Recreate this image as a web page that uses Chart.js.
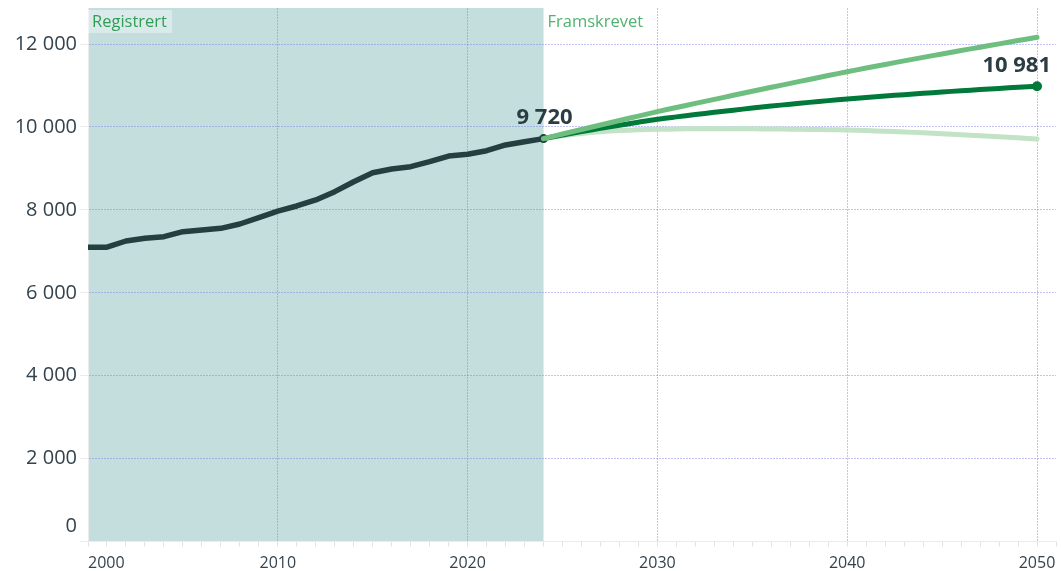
<!DOCTYPE html>
<html>
<head>
<meta charset="utf-8">
<script src="https://cdn.jsdelivr.net/npm/chart.js@4"></script>
<style>
  body { margin: 0; background: #fff; }
  #wrap { width: 1061px; height: 571px; }
</style>
</head>
<body>
<div id="wrap"><canvas id="chart"></canvas></div>
<script>
// Population, registered 2000-2024 and projected to 2050

const histYears = [2000, 2001, 2002, 2003, 2004, 2005, 2006, 2007, 2008, 2009,
                   2010, 2011, 2012, 2013, 2014, 2015, 2016, 2017, 2018, 2019,
                   2020, 2021, 2022, 2023, 2024];
const histValues = [7100, 7100, 7250, 7315, 7355, 7475, 7515, 7556, 7660, 7812,
                    7972, 8095, 8240, 8440, 8680, 8898, 8987, 9043, 9163, 9300,
                    9342, 9428, 9566, 9646, 9720];

const projYears = [2024, 2025, 2026, 2027, 2028, 2029, 2030, 2031, 2032, 2033,
                   2034, 2035, 2036, 2037, 2038, 2039, 2040, 2041, 2042, 2043,
                   2044, 2045, 2046, 2047, 2048, 2049, 2050];
const mainValues = [9720, 9806, 9888, 9966, 10042, 10116, 10186, 10244, 10300, 10354,
                    10406, 10456, 10504, 10550, 10594, 10636, 10675, 10711, 10746, 10780,
                    10813, 10844, 10874, 10903, 10931, 10957, 10981];
const highValues = [9720, 9830, 9940, 10048, 10156, 10263, 10370, 10470, 10569, 10667,
                    10764, 10861, 10957, 11052, 11147, 11241, 11334, 11422, 11509, 11595,
                    11679, 11762, 11844, 11925, 12005, 12085, 12163];
const lowValues = [9720, 9790, 9845, 9885, 9913, 9932, 9944, 9952, 9957, 9959,
                   9959, 9956, 9952, 9947, 9941, 9935, 9928, 9914, 9898, 9880,
                   9860, 9838, 9815, 9791, 9766, 9739, 9711];

const periodLabels = ['Registrert', 'Framskrevet'];
const yTicks = [0, 2000, 4000, 6000, 8000, 10000, 12000];

const fontFamily = "'Open Sans', 'Noto Sans', sans-serif";
const textColor = '#34434e';
const gridColor = 'rgba(120,120,240,0.45)';

function fmt(n) {
  return String(n).replace(/\B(?=(\d{3})+(?!\d))/g, ' ');
}

function points(xs, ys) {
  return xs.map((x, i) => ({ x: x, y: ys[i] }));
}

// shaded "registered" period + the period captions
const periodPlugin = {
  id: 'periods',
  beforeDraw(chart) {
    const ctx = chart.ctx, area = chart.chartArea, x = chart.scales.x;
    const x0 = x.getPixelForValue(histYears[0]);
    const x1 = x.getPixelForValue(histYears[histYears.length - 1]);
    ctx.save();
    ctx.fillStyle = '#c4dedd';
    ctx.fillRect(x0, area.top, x1 - x0, area.bottom - area.top);
    ctx.restore();

    // move the first x label and the 0 label inside, like the original
    const xItems = x.getLabelItems();
    x.ticks.forEach((t, i) => {
      if (t.value === histYears[0] && xItems[i]) xItems[i].options.textAlign = 'left';
    });
    const y = chart.scales.y;
    const yItems = y.getLabelItems();
    y.ticks.forEach((t, i) => {
      if (t.value === 0 && yItems[i]) yItems[i].options.translation[1] -= 15;
    });
  },
  afterDraw(chart) {
    const ctx = chart.ctx, area = chart.chartArea, x = chart.scales.x;
    const x0 = x.getPixelForValue(histYears[0]);
    const x1 = x.getPixelForValue(histYears[histYears.length - 1]);
    ctx.save();
    ctx.font = "16.5px " + fontFamily;
    ctx.textBaseline = 'middle';
    const w = ctx.measureText(periodLabels[0]).width;
    ctx.fillStyle = 'rgba(255,255,255,0.38)';
    ctx.fillRect(x0, area.top + 2, w + 9, 23);
    ctx.fillStyle = '#2f9f55';
    ctx.fillText(periodLabels[0], x0 + 4, area.top + 14);
    ctx.fillStyle = '#52b26e';
    ctx.fillText(periodLabels[1], x1 + 4, area.top + 14);
    ctx.restore();
  }
};

// value labels at the last registered and last projected point
const valueLabels = {
  id: 'valueLabels',
  afterDatasetsDraw(chart) {
    const ctx = chart.ctx, x = chart.scales.x, y = chart.scales.y, area = chart.chartArea;
    const hv = histValues[histValues.length - 1];
    const mv = mainValues[mainValues.length - 1];
    ctx.save();
    ctx.font = "bold 22px " + fontFamily;
    ctx.fillStyle = '#2b3c42';
    ctx.textBaseline = 'middle';
    ctx.textAlign = 'center';
    ctx.fillText(fmt(hv), x.getPixelForValue(histYears[histYears.length - 1]) + 1, y.getPixelForValue(hv) - 21);
    ctx.textAlign = 'right';
    ctx.fillText(fmt(mv), area.right - 5, y.getPixelForValue(mv) - 21);
    ctx.restore();
  }
};

const lastHist = histValues.length - 1;
const lastProj = projYears.length - 1;

new Chart(document.getElementById('chart'), {
  type: 'line',
  data: {
    datasets: [
      {
        label: 'Høy',
        data: points(projYears, highValues),
        borderColor: '#6ebe80',
        borderWidth: 5,
        pointRadius: 0,
        tension: 0.3,
        borderCapStyle: 'round',
        order: 0
      },
      {
        label: 'Hoved',
        data: points(projYears, mainValues),
        borderColor: '#00793a',
        backgroundColor: '#00793a',
        borderWidth: 5,
        pointRadius: (c) => c.dataIndex === lastProj ? 5 : 0,
        pointBorderWidth: 0,
        tension: 0.3,
        borderCapStyle: 'round',
        order: 1
      },
      {
        label: 'Lav',
        data: points(projYears, lowValues),
        borderColor: '#c2e3c6',
        borderWidth: 5,
        pointRadius: 0,
        tension: 0.3,
        borderCapStyle: 'round',
        order: 2
      },
      {
        label: 'Registrert',
        data: points(histYears, histValues),
        borderColor: '#243f3f',
        backgroundColor: '#243f3f',
        borderWidth: 5.5,
        pointRadius: (c) => c.dataIndex === lastHist ? 4.5 : 0,
        pointBorderWidth: 0,
        tension: 0,
        borderJoinStyle: 'round',
        borderCapStyle: 'round',
        order: 3
      }
    ]
  },
  options: {
    responsive: true,
    maintainAspectRatio: false,
    animation: false,
    layout: { padding: { top: 8, right: 0, bottom: 0, left: 0 } },
    plugins: {
      legend: { display: false },
      tooltip: { enabled: false }
    },
    scales: {
      x: {
        type: 'linear',
        min: 2000,
        max: 2051,
        afterFit: (s) => { s.height = 29.4; s.paddingLeft = 0; s.paddingRight = 0; },
        ticks: {
          stepSize: 1,
          includeBounds: false,
          autoSkip: false,
          maxRotation: 0,
          minRotation: 0,
          padding: 7,
          color: textColor,
          font: { family: fontFamily, size: 16 },
          callback: (v) => v % 10 === 0 ? String(v) : ''
        },
        grid: {
          color: (c) => c.tick && c.tick.value % 10 === 0 && c.tick.value > 2000 ? gridColor : 'rgba(0,0,0,0)',
          lineWidth: 1,
          tickColor: '#e2e2e2',
          tickLength: 5
        },
        border: { color: '#ececec', dash: [2, 1] }
      },
      y: {
        min: 0,
        max: 12870,
        afterFit: (s) => { s.width = 88; s.paddingTop = 0; s.paddingBottom = 0; },
        afterBuildTicks: (s) => { s.ticks = yTicks.map((v) => ({ value: v })); },
        ticks: {
          padding: 3,
          color: textColor,
          font: { family: fontFamily, size: 20 },
          callback: (v) => fmt(v)
        },
        grid: {
          color: (c) => c.tick && c.tick.value > 0 ? gridColor : 'rgba(0,0,0,0)',
          lineWidth: 1,
          tickColor: '#ececec',
          tickLength: 8
        },
        border: { color: '#ececec', dash: [2, 1] }
      }
    }
  },
  plugins: [periodPlugin, valueLabels]
});
</script>
</body>
</html>
